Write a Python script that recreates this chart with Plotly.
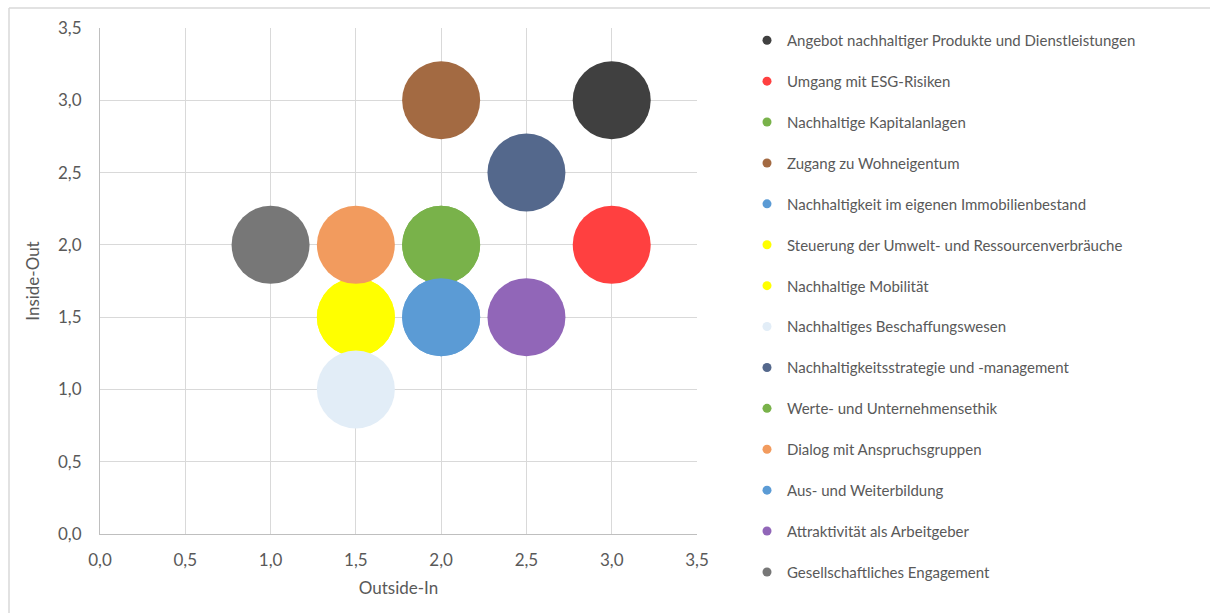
import plotly.graph_objects as go

# Materiality matrix: one bubble per topic
topics = [
    "Angebot nachhaltiger Produkte und Dienstleistungen",
    "Umgang mit ESG-Risiken",
    "Nachhaltige Kapitalanlagen",
    "Zugang zu Wohneigentum",
    "Nachhaltigkeit im eigenen Immobilienbestand",
    "Steuerung der Umwelt- und Ressourcenverbräuche",
    "Nachhaltige Mobilität",
    "Nachhaltiges Beschaffungswesen",
    "Nachhaltigkeitsstrategie und -management",
    "Werte- und Unternehmensethik",
    "Dialog mit Anspruchsgruppen",
    "Aus- und Weiterbildung",
    "Attraktivität als Arbeitgeber",
    "Gesellschaftliches Engagement",
]
outside_in = [3.0, 3.0, 2.0, 2.0, 2.0, 1.5, 1.5, 1.5, 2.5, 2.0, 1.5, 2.0, 2.5, 1.0]
inside_out = [3.0, 2.0, 2.0, 3.0, 1.5, 1.5, 1.5, 1.0, 2.5, 2.0, 2.0, 1.5, 1.5, 2.0]
colors = [
    "#404040", "#FF4040", "#79B24A", "#A36A42", "#5B9BD5", "#FFFF00", "#FFFF00",
    "#E2EDF7", "#54688C", "#79B24A", "#F29B5E", "#5B9BD5", "#9166B8", "#777777",
]
axis_ticks = [0.0, 0.5, 1.0, 1.5, 2.0, 2.5, 3.0, 3.5]

W, H = 1210, 613
L, R, T, B = 100, 697, 28, 534  # plot area in pixels


def px_x(p):
    return (p - L) / (R - L)


def px_y(p):
    return (B - p) / (B - T)


fig = go.Figure()

# bubbles
for name, x, y, c in zip(topics, outside_in, inside_out, colors):
    fig.add_trace(go.Scatter(
        x=[x], y=[y], mode="markers", name=name, showlegend=False,
        marker=dict(size=78, color=c, line=dict(width=0)),
        hoverinfo="name",
    ))

# legend entries with small markers
for i, (name, c) in enumerate(zip(topics, colors)):
    fig.add_trace(go.Scatter(
        x=[None], y=[None], mode="markers", name=name, legendgroup=f"g{i}",
        marker=dict(size=9, color=c),
    ))

FONT = "Lato, Carlito, 'Open Sans', sans-serif"
GRID = "#D9D9D9"
TXT = "#595959"

axis_common = dict(
    range=[0, 3.5], tickvals=axis_ticks, tickformat=".1f",
    showgrid=True, gridcolor=GRID, gridwidth=1,
    showline=True, linecolor="#BFBFBF", linewidth=1,
    zeroline=False, ticks="", fixedrange=True,
    tickfont=dict(family=FONT, size=17, color=TXT),
)

fig.update_layout(
    width=W, height=H,
    margin=dict(l=L, r=W - R, t=T, b=H - B, autoexpand=False),
    paper_bgcolor="white", plot_bgcolor="white",
    separators=",.",
    font=dict(family=FONT, color=TXT),
    xaxis=dict(**axis_common, ticklabelstandoff=11,
               title=dict(text="Outside-In", standoff=12,
                          font=dict(family=FONT, size=17, color=TXT))),
    yaxis=dict(**axis_common, ticklabelstandoff=14,
               title=dict(text="Inside-Out", standoff=14,
                          font=dict(family=FONT, size=17, color=TXT))),
    legend=dict(
        x=px_x(747), xanchor="left", y=px_y(24), yanchor="top",
        font=dict(family=FONT, size=15, color=TXT),
        tracegroupgap=18.4, itemwidth=30, bgcolor="rgba(0,0,0,0)",
        maxheight=600,
    ),
    shapes=[
        dict(type="line", xref="paper", yref="paper",
             x0=px_x(9), x1=px_x(W + 5), y0=px_y(8), y1=px_y(8),
             line=dict(color=GRID, width=1.5)),
        dict(type="line", xref="paper", yref="paper",
             x0=px_x(9), x1=px_x(9), y0=px_y(8), y1=px_y(H + 5),
             line=dict(color=GRID, width=1.5)),
    ],
)

fig.write_html("out.html")
